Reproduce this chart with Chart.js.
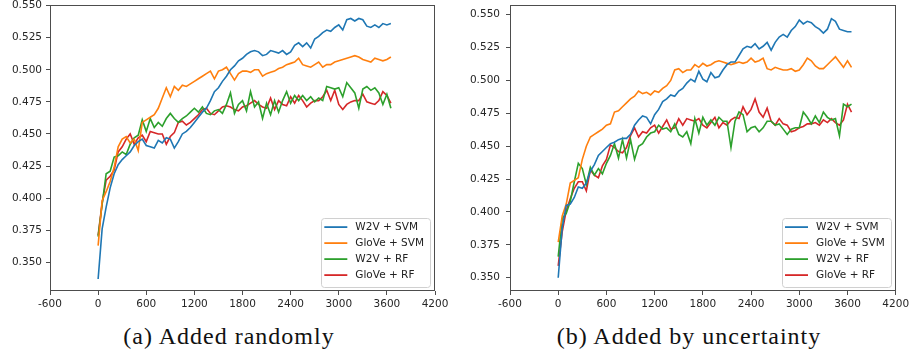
<!DOCTYPE html>
<html>
<head>
<meta charset="utf-8">
<script src="https://cdn.jsdelivr.net/npm/chart.js@4.4.0/dist/chart.umd.min.js"></script>
<style>
  body { margin: 0; background: #fff; width: 911px; height: 356px; position: relative; overflow: hidden; }
  canvas { position: absolute; top: 0; }
  #chartA { left: 0; }
  #chartB { left: 455px; }
  .caption { position: absolute; top: 323px; font-family: "Liberation Serif", serif; font-size: 24px; letter-spacing: 1px; color: #111; text-align: center; white-space: nowrap; }
</style>
</head>
<body>
<canvas id="chartA" width="455" height="318"></canvas>
<canvas id="chartB" width="456" height="318"></canvas>
<div class="caption" style="left:0;width:458px">(a) Added randomly</div>
<div class="caption" style="left:455px;width:468px">(b) Added by uncertainty</div>
<script>
const sizes = [0, 50, 100, 150, 200, 250, 300, 350, 400, 450, 500, 550, 600, 650, 700, 750, 800, 850, 900, 950,
    1000, 1050, 1100, 1150, 1200, 1250, 1300, 1350, 1400, 1450, 1500, 1550, 1600, 1650, 1700, 1750, 1800, 1850, 1900, 1950,
    2000, 2050, 2100, 2150, 2200, 2250, 2300, 2350, 2400, 2450, 2500, 2550, 2600, 2650, 2700, 2750, 2800, 2850, 2900, 2950,
    3000, 3050, 3100, 3150, 3200, 3250, 3300, 3350, 3400, 3450, 3500, 3550, 3600, 3650];

const seriesNames = ['W2V + SVM', 'GloVe + SVM', 'W2V + RF', 'GloVe + RF'];
const seriesColors = ['#1f77b4', '#ff7f0e', '#2ca02c', '#d62728'];
const xTicks = [-600, 0, 600, 1200, 1800, 2400, 3000, 3600, 4200];
const yTicks = [0.350, 0.375, 0.400, 0.425, 0.450, 0.475, 0.500, 0.525, 0.550];

// (a) added randomly
const randW2vSvm = [0.337, 0.376, 0.393, 0.408, 0.419, 0.426, 0.430, 0.433, 0.436, 0.441,
    0.444, 0.446, 0.441, 0.440, 0.439, 0.445, 0.443, 0.447, 0.446, 0.439,
    0.444, 0.450, 0.452, 0.455, 0.459, 0.463, 0.467, 0.470, 0.476, 0.483,
    0.486, 0.491, 0.495, 0.500, 0.503, 0.507, 0.509, 0.512, 0.514, 0.515,
    0.514, 0.511, 0.512, 0.515, 0.514, 0.513, 0.515, 0.512, 0.514, 0.519,
    0.521, 0.518, 0.521, 0.517, 0.524, 0.526, 0.529, 0.531, 0.530, 0.533,
    0.535, 0.531, 0.539, 0.540, 0.538, 0.540, 0.539, 0.534, 0.533, 0.535,
    0.533, 0.536, 0.535, 0.536];
const randGloveSvm = [0.363, 0.398, 0.405, 0.413, 0.424, 0.440, 0.446, 0.448, 0.443, 0.446,
    0.437, 0.459, 0.461, 0.463, 0.465, 0.470, 0.478, 0.486, 0.479, 0.487,
    0.484, 0.488, 0.487, 0.489, 0.491, 0.493, 0.495, 0.497, 0.499, 0.493,
    0.499, 0.500, 0.502, 0.497, 0.492, 0.497, 0.499, 0.499, 0.498, 0.500,
    0.500, 0.495, 0.497, 0.498, 0.499, 0.501, 0.502, 0.504, 0.505, 0.506,
    0.509, 0.504, 0.503, 0.502, 0.504, 0.506, 0.502, 0.504, 0.504, 0.506,
    0.507, 0.508, 0.509, 0.510, 0.511, 0.510, 0.508, 0.507, 0.506, 0.509,
    0.508, 0.507, 0.508, 0.510];
const randW2vRf = [0.370, 0.395, 0.419, 0.421, 0.432, 0.433, 0.436, 0.434, 0.442, 0.447,
    0.449, 0.461, 0.452, 0.462, 0.455, 0.459, 0.456, 0.462, 0.466, 0.462,
    0.459, 0.462, 0.464, 0.467, 0.470, 0.467, 0.471, 0.466, 0.465, 0.468,
    0.469, 0.466, 0.473, 0.482, 0.466, 0.473, 0.476, 0.468, 0.483, 0.471,
    0.475, 0.462, 0.474, 0.465, 0.476, 0.467, 0.476, 0.483, 0.474, 0.480,
    0.476, 0.480, 0.476, 0.479, 0.475, 0.478, 0.476, 0.487, 0.486, 0.485,
    0.486, 0.479, 0.490, 0.486, 0.482, 0.470, 0.485, 0.487, 0.484, 0.486,
    0.482, 0.473, 0.481, 0.470];
const randGloveRf = [0.371, 0.396, 0.414, 0.417, 0.422, 0.436, 0.440, 0.446, 0.450, 0.442,
    0.447, 0.449, 0.444, 0.452, 0.451, 0.450, 0.450, 0.442, 0.448, 0.451,
    0.459, 0.460, 0.457, 0.459, 0.462, 0.465, 0.469, 0.470, 0.466, 0.465,
    0.468, 0.471, 0.472, 0.471, 0.469, 0.468, 0.471, 0.472, 0.474, 0.476,
    0.473, 0.471, 0.470, 0.478, 0.469, 0.476, 0.473, 0.472, 0.479, 0.474,
    0.480, 0.476, 0.471, 0.474, 0.476, 0.476, 0.479, 0.484, 0.476, 0.484,
    0.473, 0.469, 0.473, 0.475, 0.476, 0.476, 0.481, 0.475, 0.474, 0.473,
    0.476, 0.483, 0.480, 0.474];

// (b) added by uncertainty
const uncW2vSvm = [0.350, 0.388, 0.405, 0.406, 0.411, 0.419, 0.418, 0.422, 0.431, 0.436,
    0.443, 0.446, 0.449, 0.452, 0.453, 0.455, 0.456, 0.456, 0.459, 0.466,
    0.470, 0.473, 0.472, 0.467, 0.474, 0.478, 0.484, 0.486, 0.489, 0.488,
    0.492, 0.494, 0.498, 0.501, 0.499, 0.507, 0.501, 0.499, 0.506, 0.502,
    0.503, 0.508, 0.512, 0.514, 0.514, 0.519, 0.524, 0.526, 0.525, 0.528,
    0.524, 0.526, 0.529, 0.523, 0.529, 0.533, 0.535, 0.533, 0.538, 0.541,
    0.546, 0.543, 0.545, 0.544, 0.541, 0.539, 0.536, 0.539, 0.547, 0.545,
    0.539, 0.538, 0.537, 0.537];
const uncGloveSvm = [0.377, 0.397, 0.406, 0.422, 0.424, 0.426, 0.440, 0.450, 0.457, 0.459,
    0.461, 0.463, 0.466, 0.467, 0.476, 0.477, 0.480, 0.483, 0.486, 0.488,
    0.492, 0.490, 0.491, 0.489, 0.492, 0.491, 0.494, 0.496, 0.500, 0.508,
    0.509, 0.506, 0.508, 0.508, 0.512, 0.510, 0.513, 0.511, 0.512, 0.514,
    0.515, 0.514, 0.513, 0.512, 0.513, 0.514, 0.513, 0.514, 0.517, 0.514,
    0.515, 0.517, 0.509, 0.508, 0.510, 0.509, 0.508, 0.508, 0.509, 0.507,
    0.508, 0.512, 0.517, 0.515, 0.511, 0.509, 0.509, 0.512, 0.515, 0.518,
    0.514, 0.510, 0.515, 0.510];
const uncW2vRf = [0.366, 0.395, 0.399, 0.408, 0.423, 0.437, 0.433, 0.421, 0.434, 0.428,
    0.433, 0.429, 0.437, 0.443, 0.452, 0.441, 0.455, 0.441, 0.455, 0.440,
    0.450, 0.452, 0.457, 0.460, 0.461, 0.466, 0.463, 0.464, 0.461, 0.467,
    0.459, 0.457, 0.461, 0.452, 0.471, 0.460, 0.472, 0.466, 0.470, 0.466,
    0.472, 0.469, 0.469, 0.449, 0.469, 0.476, 0.474, 0.461, 0.464, 0.465,
    0.461, 0.464, 0.469, 0.469, 0.466, 0.467, 0.463, 0.459, 0.463, 0.464,
    0.464, 0.476, 0.472, 0.467, 0.473, 0.468, 0.476, 0.472, 0.470, 0.471,
    0.458, 0.482, 0.480, 0.482];
const uncGloveRf = [0.359, 0.385, 0.401, 0.410, 0.418, 0.423, 0.423, 0.416, 0.432, 0.428,
    0.426, 0.435, 0.440, 0.451, 0.449, 0.446, 0.445, 0.449, 0.458, 0.464,
    0.457, 0.461, 0.460, 0.464, 0.466, 0.460, 0.465, 0.470, 0.463, 0.464,
    0.471, 0.466, 0.471, 0.470, 0.469, 0.471, 0.466, 0.464, 0.468, 0.472,
    0.464, 0.468, 0.466, 0.470, 0.472, 0.471, 0.480, 0.474, 0.478, 0.486,
    0.476, 0.472, 0.479, 0.469, 0.466, 0.471, 0.467, 0.466, 0.461, 0.462,
    0.464, 0.465, 0.467, 0.467, 0.468, 0.466, 0.470, 0.468, 0.471, 0.468,
    0.466, 0.470, 0.482, 0.476];

const tickFont = { family: '"DejaVu Sans", sans-serif', size: 10.5 };
const axisColor = '#4d4d4d';

// matplotlib-like box around the axes + legend in the lower right
const framePlugin = {
    id: 'frameLegend',
    afterDraw(chart) {
        const { ctx, chartArea: a } = chart;
        ctx.save();
        ctx.strokeStyle = axisColor;
        ctx.lineWidth = 1;
        const l = Math.round(a.left) + 0.5, t = Math.round(a.top) + 0.5;
        const r = Math.round(a.right) - 0.5, b = Math.round(a.bottom) - 0.5;
        ctx.strokeRect(l, t, r - l, b - t);

        ctx.font = '10.5px "DejaVu Sans", sans-serif';
        const sets = chart.data.datasets;
        const textW = Math.max(...sets.map(d => ctx.measureText(d.label).width));
        const boxW = 3 + 23 + 8 + textW + 6;
        const boxH = 69;
        const bx = a.right - 5 - boxW;
        const by = a.bottom - 4.5 - boxH;
        ctx.beginPath();
        ctx.roundRect(Math.round(bx) + 0.5, Math.round(by) + 0.5, Math.round(boxW), boxH, 3);
        ctx.fillStyle = 'rgba(255,255,255,0.85)';
        ctx.fill();
        ctx.strokeStyle = '#d0d0d0';
        ctx.stroke();

        ctx.textBaseline = 'middle';
        sets.forEach((d, i) => {
            const cy = by + 9.6 + i * 16;
            ctx.strokeStyle = d.borderColor;
            ctx.lineWidth = 1.8;
            ctx.beginPath();
            ctx.moveTo(bx + 3, cy);
            ctx.lineTo(bx + 26, cy);
            ctx.stroke();
            ctx.fillStyle = '#222';
            ctx.fillText(d.label, bx + 34, cy + 0.5);
        });
        ctx.restore();
    }
};

const makeChart = (id, seriesList, yMin, yMax, yWidth, yPad, padRight) => {
    const datasets = seriesList.map((values, i) => ({
        label: seriesNames[i],
        data: sizes.map((x, j) => ({ x, y: values[j] })),
        borderColor: seriesColors[i],
        backgroundColor: seriesColors[i],
        borderWidth: 1.6,
        pointRadius: 0,
        tension: 0,
        fill: false,
    }));

    return new Chart(document.getElementById(id), {
        type: 'line',
        data: { datasets },
        plugins: [framePlugin],
        options: {
            responsive: false,
            animation: false,
            devicePixelRatio: 1,
            layout: { padding: { left: 0, right: padRight, top: 5, bottom: 0 } },
            plugins: { legend: { display: false }, tooltip: { enabled: false } },
            scales: {
                x: {
                    type: 'linear',
                    min: -600,
                    max: 4200,
                    afterBuildTicks: (scale) => { scale.ticks = xTicks.map(v => ({ value: v })); },
                    afterFit: (scale) => {
                        scale.height = 27;
                        scale.paddingLeft = 0; scale.paddingRight = 0;
                    },
                    grid: { drawOnChartArea: false, drawTicks: true, tickLength: 4, color: axisColor },
                    border: { display: false },
                    ticks: {
                        autoSkip: false, maxRotation: 0, padding: 3,
                        color: '#262626', font: tickFont,
                        callback: (v) => String(v),
                    },
                },
                y: {
                    type: 'linear',
                    min: yMin,
                    max: yMax,
                    afterBuildTicks: (scale) => { scale.ticks = yTicks.map(v => ({ value: v })); },
                    afterFit: (scale) => {
                        scale.width = yWidth;
                        scale.paddingTop = 0; scale.paddingBottom = 0;
                    },
                    grid: { drawOnChartArea: false, drawTicks: true, tickLength: 4, color: axisColor },
                    border: { display: false },
                    ticks: {
                        padding: yPad,
                        color: '#262626', font: tickFont,
                        callback: (v) => v.toFixed(3),
                    },
                },
            },
        },
    });
};

makeChart('chartA', [randW2vSvm, randGloveSvm, randW2vRf, randGloveRf], 0.3276, 0.5505, 50, 4, 20);
makeChart('chartB', [uncW2vSvm, uncGloveSvm, uncW2vRf, uncGloveRf], 0.3399, 0.5574, 55, 6, 15.3);
</script>
</body>
</html>
